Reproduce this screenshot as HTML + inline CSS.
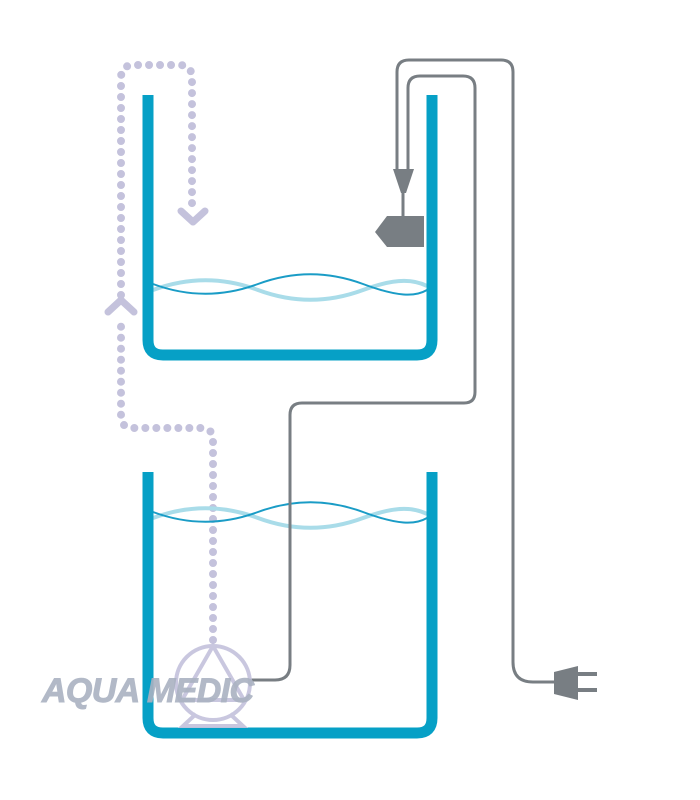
<!DOCTYPE html>
<html><head><style>body{margin:0;background:#fff}svg{display:block}</style></head><body>
<svg width="700" height="800" viewBox="0 0 700 800" xmlns="http://www.w3.org/2000/svg">
<rect width="700" height="800" fill="#fff"/>
<!-- dotted path -->
<g fill="none" stroke="#c4c2dc" stroke-width="8" stroke-linecap="round" stroke-dasharray="0 11">
<path d="M213 640 V440 Q213 428 201 428 H133 Q121 428 121 416 V318"/>
<path d="M121 295 V78 Q121 65 134 65 H179 Q192 65 192 78 V205"/>
</g>
<path d="M108 312 L121 300 L134 312" fill="none" stroke="#c4c2dc" stroke-width="7" stroke-linecap="round" stroke-linejoin="round"/>
<path d="M181 211 L193 222 L205 211" fill="none" stroke="#c4c2dc" stroke-width="7" stroke-linecap="round" stroke-linejoin="round"/>
<!-- waves -->
<g fill="none">
<path d="M153 290 C188 277 223 277 258 290 S328 303 363 290 S415 280 427 286" stroke="#a9dce9" stroke-width="4"/>
<path d="M153 284 C188 297 223 297 258 284 S328 271 363 284 S415 297 427 290" stroke="#1a9cc6" stroke-width="2"/>
<path d="M153 518 C188 505 223 505 258 518 S328 531 363 518 S415 508 427 514" stroke="#a9dce9" stroke-width="4"/>
<path d="M153 512 C188 525 223 525 258 512 S328 499 363 512 S415 525 427 518" stroke="#1a9cc6" stroke-width="2"/>
</g>
<!-- tanks -->
<g fill="none" stroke="#06a0c6" stroke-width="11">
<path d="M148 95 V340 Q148 355 163 355 H417 Q432 355 432 340 V95"/>
<path d="M148 472 V718 Q148 733 163 733 H417 Q432 733 432 718 V472"/>
</g>
<!-- gray tubes -->
<g fill="none" stroke="#787e83" stroke-width="3">
<path d="M397 172 V72 Q397 60 409 60 H501 Q513 60 513 72 V662 Q513 682 533 682 H560"/>
<path d="M408 172 V88 Q408 76 420 76 H463 Q475 76 475 88 V392 Q475 403 464 403 H302 Q290 403 290 415 V665 Q290 680 275 680 H250"/>
<path d="M403 190 V216"/>
</g>
<path d="M393 169 L414 169 L406 193 L401 193 Z" fill="#787e83"/>
<path d="M387 216 H424 V247 H387 L375 232 Z" fill="#787e83"/>
<!-- plug -->
<path d="M554 672 L578 666 V700 L554 694 Z" fill="#787e83"/>
<g stroke="#787e83" stroke-width="4"><path d="M578 674 H597 M578 690 H597"/></g>
<!-- pump -->
<g fill="none" stroke="#c4c2dc" stroke-width="4" opacity="0.9">
<circle cx="213" cy="683" r="37"/>
<path d="M213 646 L182 700 H244 Z"/>
<path d="M196 714 L183 726 H243 L230 714"/>
</g>
<text x="42" y="702" font-family="Liberation Sans, sans-serif" font-weight="bold" font-style="italic" font-size="34" fill="#aab2c2" stroke="#aab2c2" stroke-width="1" opacity="0.9" textLength="212">AQUA MEDIC</text>
</svg>
</body></html>
